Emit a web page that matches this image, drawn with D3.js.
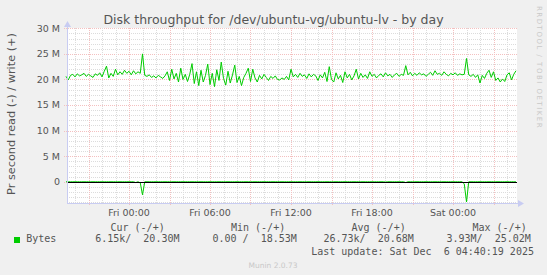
<!DOCTYPE html>
<html>
<head>
<meta charset="utf-8">
<script src="https://cdn.jsdelivr.net/npm/d3@7"></script>
<style>
  body { margin: 0; background: #f0f0f0; }
  svg { display: block; }
  text { font-family: "DejaVu Sans", sans-serif; fill: #555; }
  .mono { font-family: "DejaVu Sans Mono", monospace; white-space: pre; }
</style>
</head>
<body>
<svg id="chart"></svg>
<script>
// samples every 10 minutes, Thu 19:20 -> Sat 04:40 (UTC used as wall clock)
const startTime = Date.UTC(2025, 11, 4, 19, 20);
const endTime = Date.UTC(2025, 11, 6, 4, 40);
const stepMinutes = 10;

// write (+) in MB/s
const writeBytes = [
  20.6, 19.9, 20.8, 21.0, 20.5, 21.1, 20.7, 20.9, 21.2, 20.6, 21.0, 20.7, 20.4, 21.1, 20.8, 21.3, 20.5, 21.6, 22.6, 20.3,
  21.2, 20.6, 22.0, 20.9, 21.5, 21.0, 21.8, 21.2, 21.6, 20.9, 21.7, 21.1, 21.5, 21.2, 25.0, 20.8, 20.6, 20.9, 20.4, 20.7,
  20.3, 20.8, 20.5, 20.2, 20.7, 21.5, 19.8, 22.0, 20.1, 21.2, 19.5, 22.2, 20.0, 21.0, 19.6, 21.0, 23.1, 19.2, 21.5, 18.8,
  21.8, 19.5, 20.8, 23.0, 19.0, 21.2, 18.6, 21.9, 19.8, 23.4, 20.2, 18.9, 21.6, 19.3, 20.9, 22.8, 19.4, 20.6, 18.8, 20.4,
  21.2, 22.2, 19.6, 22.0, 20.3, 19.5, 20.8, 20.1, 21.0, 20.4, 19.8, 20.6, 20.2, 20.7, 20.0, 19.9, 20.3, 20.0, 20.6, 19.9,
  22.0, 20.5, 21.0, 20.4, 21.2, 20.6, 20.9, 20.2, 21.1, 20.5, 21.0, 20.7, 19.8, 20.9, 20.3, 21.4, 19.6, 22.5, 20.0, 19.5,
  21.3, 20.1, 20.8, 19.4, 21.5, 20.3, 21.0, 19.9, 20.7, 22.0, 20.1, 21.2, 20.4, 20.9, 20.2, 21.5, 20.6, 21.0, 20.3, 20.8,
  21.1, 20.5, 21.3, 20.7, 21.0, 20.4, 20.9, 21.2, 20.6, 21.0, 20.8, 22.7, 20.9, 21.4, 20.7, 21.2, 20.8, 21.3, 20.9, 21.1,
  20.6, 21.0, 21.4, 20.8, 21.7, 21.0, 21.2, 20.8, 21.5, 21.0, 20.7, 21.2, 20.9, 21.3, 20.8, 21.1, 20.9, 21.0, 24.1, 20.9,
  20.6, 21.0, 20.4, 20.9, 19.3, 20.8, 20.2, 21.2, 21.8, 20.4, 21.5, 19.8, 20.3, 19.5, 20.1, 19.6, 20.9, 21.3, 19.9, 21.0,
  21.7
];

// read (-) in MB/s, drawn below zero
const readBytes = [
  0, 0, 0, 0, 0, 0, 0, 0, 0, 0, 0, 0, 0, 0, 0, 0, 0, 0, 0, 0,
  0, 0, 0, 0, 0, 0, 0, 0, 0, 0, 0, 0.15, 0, 0.2, 2.55, 0, 0, 0, 0, 0,
  0, 0, 0, 0, 0, 0, 0, 0, 0, 0, 0, 0, 0, 0, 0, 0, 0, 0, 0, 0,
  0, 0, 0, 0, 0, 0, 0, 0, 0, 0, 0, 0, 0, 0, 0, 0, 0, 0, 0, 0,
  0, 0, 0, 0, 0, 0, 0, 0, 0, 0, 0, 0, 0, 0, 0, 0, 0, 0, 0, 0,
  0, 0, 0, 0, 0, 0, 0, 0, 0, 0, 0, 0, 0, 0, 0, 0, 0, 0, 0, 0,
  0, 0, 0, 0, 0, 0, 0, 0, 0, 0, 0, 0, 0, 0, 0, 0, 0, 0, 0, 0,
  0, 0, 0.05, 0, 0, 0, 0, 0, 0, 0, 0, 0.15, 0, 0, 0, 0, 0, 0, 0, 0,
  0, 0, 0, 0, 0, 0, 0, 0, 0, 0, 0, 0, 0, 0, 0, 0, 0, 0.4, 3.93, 0,
  0, 0, 0, 0, 0, 0, 0, 0, 0, 0, 0, 0, 0, 0, 0, 0, 0, 0, 0, 0,
  0.01
];

const yTicks = [0, 5, 10, 15, 20, 25, 30];
const yTickLabels = ["0", "5 M", "10 M", "15 M", "20 M", "25 M", "30 M"];

const statNames = ["Cur", "Min", "Avg", "Max"];
const readStats = ["6.15k", "0.00 ", "26.73k", "3.93M"];
const writeStats = ["20.30M", "18.53M", "20.68M", "25.02M"];
const seriesName = "Bytes";
const lastUpdate = "Last update: Sat Dec  6 04:40:19 2025";

const W = 547, H = 275;
const plotLeft = 67, plotRight = 516, plotTop = 28, plotBottom = 203;

const svg = d3.select("#chart").attr("width", W).attr("height", H);
svg.append("rect").attr("width", W).attr("height", H).attr("fill", "#f0f0f0");

var x = d3.scaleUtc().domain([startTime, endTime]).range([66, 516]);
var y = d3.scaleLinear().domain([-4.15, 30]).range([203, 28.3]);

const times = writeBytes.map((d, i) => new Date(startTime + i * stepMinutes * 60000));

// canvas
svg.append("rect")
  .attr("x", plotLeft).attr("y", plotTop)
  .attr("width", plotRight - plotLeft + 1).attr("height", plotBottom - plotTop)
  .attr("fill", "#ffffff");

const px = v => Math.round(v) + 0.5;
const minorCol = "#dcdcdc", majorCol = "#f4c0c0";

// horizontal grid, 1M minor / 5M major
const grid = svg.append("g");
d3.range(-4, 31).forEach(v => {
  const major = v % 5 === 0;
  grid.append("line")
    .attr("x1", major ? plotLeft - 3 : plotLeft).attr("x2", plotRight + 1)
    .attr("y1", px(y(v))).attr("y2", px(y(v)))
    .attr("stroke", major ? majorCol : minorCol)
    .attr("stroke-dasharray", "1,1");
});

// vertical grid, 1h minor / 3h major
d3.utcHour.range(startTime, endTime).forEach(h => {
  const major = h.getUTCHours() % 3 === 0;
  grid.append("line")
    .attr("x1", px(x(h))).attr("x2", px(x(h)))
    .attr("y1", plotTop).attr("y2", major ? plotBottom + 3 : plotBottom)
    .attr("stroke", major ? majorCol : minorCol)
    .attr("stroke-dasharray", "1,1");
});

// series
const writeLine = d3.line().x((d, i) => x(times[i])).y(d => y(d));
const readLine = d3.line().x((d, i) => x(times[i])).y(d => y(-d));

svg.append("path").datum(readBytes)
  .attr("d", readLine).attr("fill", "none")
  .attr("stroke", "#00cc00").attr("stroke-width", 1);
svg.append("path").datum(writeBytes)
  .attr("d", writeLine).attr("fill", "none")
  .attr("stroke", "#00cc00").attr("stroke-width", 1);

// zero rule
svg.append("line")
  .attr("x1", plotLeft).attr("x2", plotRight + 1)
  .attr("y1", px(y(0))).attr("y2", px(y(0)))
  .attr("stroke", "#000").attr("stroke-width", 1);

// axes with arrows
const axisCol = "#c8ccf2";
svg.append("line")
  .attr("x1", plotLeft + 0.5).attr("x2", plotLeft + 0.5)
  .attr("y1", plotTop - 2).attr("y2", plotBottom + 1)
  .attr("stroke", axisCol);
svg.append("line")
  .attr("x1", plotLeft).attr("x2", plotRight + 3)
  .attr("y1", plotBottom + 0.5).attr("y2", plotBottom + 0.5)
  .attr("stroke", axisCol);
svg.append("path")
  .attr("d", `M${plotLeft - 3},${plotTop - 1}L${plotLeft + 0.5},${plotTop - 7}L${plotLeft + 4},${plotTop - 1}Z`)
  .attr("fill", axisCol);
svg.append("path")
  .attr("d", `M${plotRight + 2},${plotBottom - 3}L${plotRight + 8},${plotBottom + 0.5}L${plotRight + 2},${plotBottom + 4}Z`)
  .attr("fill", axisCol);

// y labels
svg.append("g").selectAll("text")
  .data(yTicks)
  .enter()
  .append("text")
  .attr("x", 60)
  .attr("y", d => y(d))
  .attr("dy", "0.35em")
  .attr("text-anchor", "end")
  .attr("font-size", "9.5px")
  .text((d, i) => yTickLabels[i]);

// x labels, every 6 hours
const fmt = d3.utcFormat("%a %H:%M");
svg.append("g").selectAll("text")
  .data(d3.utcHour.every(6).range(startTime, endTime))
  .enter()
  .append("text")
  .attr("x", d => x(d))
  .attr("y", 216)
  .attr("text-anchor", "middle")
  .attr("font-size", "9.5px")
  .text(d => fmt(d));

// title
svg.append("text")
  .attr("x", 273.5).attr("y", 24)
  .attr("text-anchor", "middle")
  .attr("font-size", "12.5px")
  .text("Disk throughput for /dev/ubuntu-vg/ubuntu-lv - by day");

// vertical label
svg.append("text")
  .attr("transform", "translate(15,114) rotate(-90)")
  .attr("text-anchor", "middle")
  .attr("font-size", "11.3px")
  .text("Pr second read (-) / write (+)");

// rrdtool watermark
svg.append("text")
  .attr("transform", "translate(536.5,6) rotate(90)")
  .attr("font-size", "7px")
  .attr("letter-spacing", "1.5px")
  .style("fill", "#c8c8c8")
  .text("RRDTOOL / TOBI OETIKER");

// legend
const headX = [110.5, 231, 351.5, 472.5];
const valX = [95.2, 212.5, 323.5, 446.5];
const legend = svg.append("g").attr("class", "legend");
statNames.forEach((s, i) => {
  legend.append("text").attr("class", "mono")
    .attr("x", headX[i]).attr("y", 231).attr("font-size", "10px")
    .text(s + " (-/+)");
  legend.append("text").attr("class", "mono")
    .attr("x", valX[i]).attr("y", 242).attr("font-size", "10px")
    .text(readStats[i] + "/  " + writeStats[i]);
});
legend.append("rect")
  .attr("x", 14).attr("y", 237).attr("width", 6).attr("height", 6)
  .attr("fill", "#00cc00");
legend.append("text").attr("class", "mono")
  .attr("x", 26.2).attr("y", 242).attr("font-size", "10px")
  .text(seriesName);
legend.append("text").attr("class", "mono")
  .attr("x", 311.2).attr("y", 255).attr("font-size", "10px")
  .text(lastUpdate);

svg.append("text")
  .attr("x", 273).attr("y", 268)
  .attr("text-anchor", "middle")
  .attr("font-size", "7.5px")
  .style("fill", "#c8c8c8")
  .text("Munin 2.0.73");
</script>
</body>
</html>
